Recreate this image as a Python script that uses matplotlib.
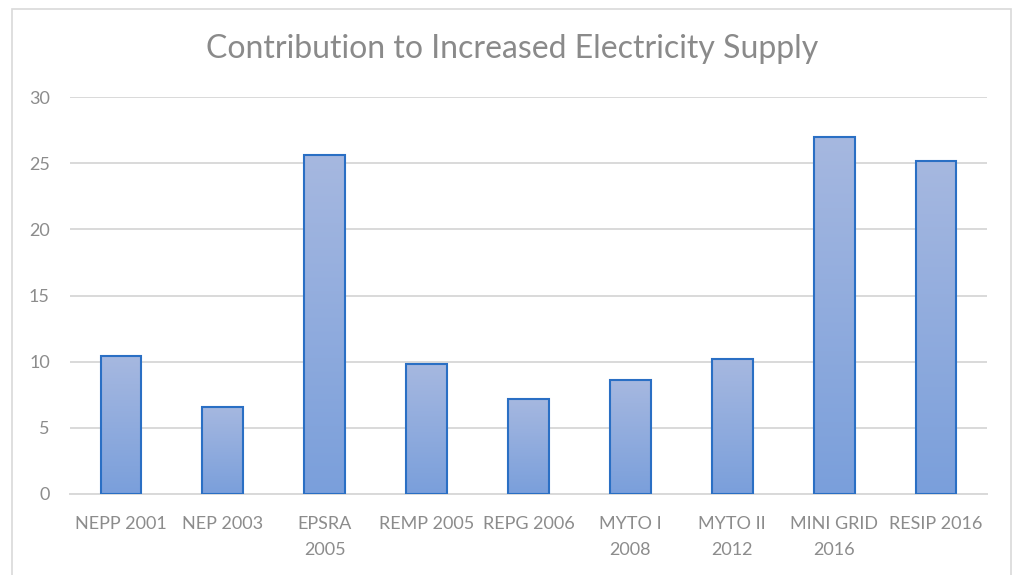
import matplotlib
matplotlib.use("Agg")
import matplotlib.pyplot as plt
import numpy as np
from matplotlib.colors import LinearSegmentedColormap
from matplotlib.patches import Rectangle

categories = ["NEPP 2001", "NEP 2003", "EPSRA\n2005", "REMP 2005", "REPG 2006",
              "MYTO I\n2008", "MYTO II\n2012", "MINI GRID\n2016", "RESIP 2016"]
values = [10.4, 6.6, 25.6, 9.8, 7.2, 8.6, 10.2, 27.0, 25.2]
yticks = [0, 5, 10, 15, 20, 25, 30]

plt.rcParams['font.family'] = ['Lato', 'DejaVu Sans']

fig = plt.figure(figsize=(10.14, 5.75), dpi=100)
fig.patch.set_facecolor("white")
# chart frame
fig.patches.append(Rectangle((12 / 1014, -0.05), 999 / 1014, 1.05 - 9 / 575,
                             transform=fig.transFigure, fill=False,
                             edgecolor="#d9d9d9", linewidth=1.2))

ax = fig.add_axes([70 / 1014, 1 - 494 / 575, 917 / 1014, 397 / 575])

grad = LinearSegmentedColormap.from_list("g", ["#7a9fdb", "#a6b8e0"])
width = 0.4
x = np.arange(len(categories))
bars = ax.bar(x, values, width=width, color="none", edgecolor="#2a6fc4",
              linewidth=1.5, zorder=3)
gradient = np.linspace(0, 1, 256).reshape(-1, 1)
for b in bars:
    x0, y0 = b.get_x(), b.get_y()
    w, h = b.get_width(), b.get_height()
    im = ax.imshow(gradient, cmap=grad, origin="lower", aspect="auto",
                   extent=[x0, x0 + w, y0, y0 + h], zorder=2)
    im.set_clip_path(b)
ax.set_xlim(-0.5, len(categories) - 0.5)
ax.set_ylim(0, 30)

ax.set_yticks(yticks)
ax.set_yticklabels([str(t) for t in yticks])
ax.set_xticks(x)
ax.set_xticklabels(categories)
ax.grid(axis="y", color="#d9d9d9", linewidth=1.4, zorder=0)
ax.set_axisbelow(True)
for s in ["top", "right", "left"]:
    ax.spines[s].set_visible(False)
ax.spines["bottom"].set_color("#d9d9d9")
ax.spines["bottom"].set_linewidth(1.4)
ax.tick_params(axis="both", length=0, labelsize=13, colors="#8c8c8c")
ax.tick_params(axis="y", pad=14.5)
ax.tick_params(axis="x", pad=16)
for lbl in ax.get_xticklabels():
    lbl.set_linespacing(1.75)

fig.text(0.505, 1 - 49 / 575, "Contribution to Increased Electricity Supply",
         ha="center", va="center", fontsize=23, color="#8a8a8a")

fig.savefig("out.png", dpi=100, facecolor="white")
